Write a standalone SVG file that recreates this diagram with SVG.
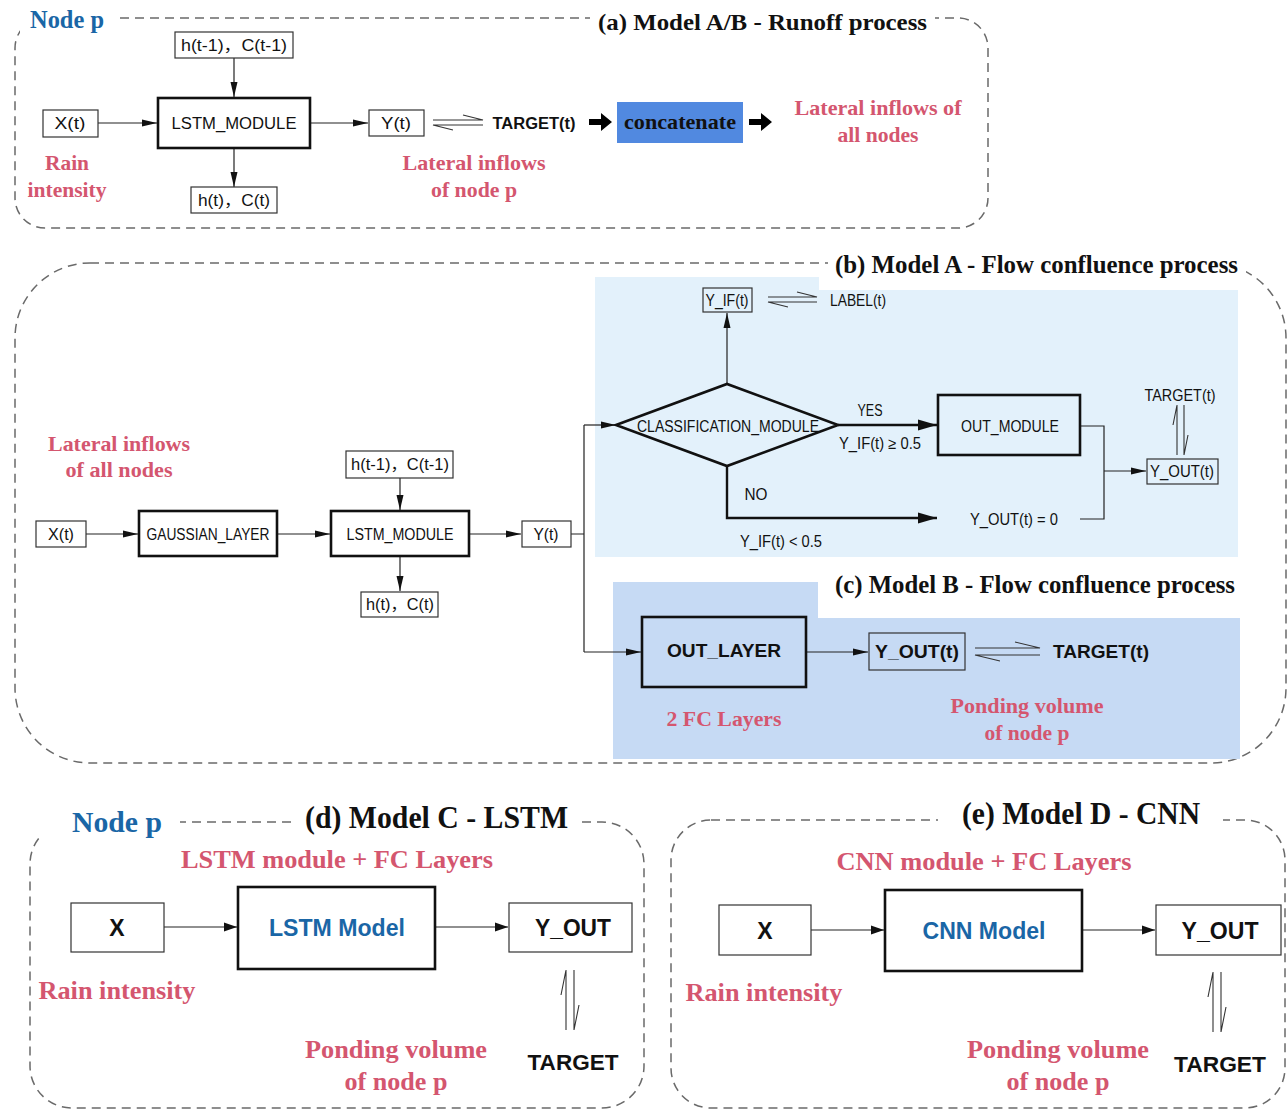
<svg xmlns="http://www.w3.org/2000/svg" width="1288" height="1111" viewBox="0 0 1288 1111">
<defs>
<style>
.panel{fill:none;stroke:#6a6a6a;stroke-width:1.5;stroke-dasharray:9 6}
.box{fill:#fff;stroke:#333;stroke-width:1.2}
.boxn{fill:none;stroke:#333;stroke-width:1.2}
.thick{fill:#fff;stroke:#111;stroke-width:2.6}
.thickn{fill:none;stroke:#111;stroke-width:2.6}
.ln{fill:none;stroke:#222;stroke-width:1.2}
.lnb{fill:none;stroke:#111;stroke-width:2.4}
.lbl{font-family:"Liberation Sans","Noto Sans CJK SC",sans-serif;font-size:16px;fill:#111;text-anchor:middle;dominant-baseline:central}
.lblb{font-family:"Liberation Sans",Arial,sans-serif;font-weight:bold;fill:#111;text-anchor:middle;dominant-baseline:central}
.title{font-family:"Liberation Serif","Times New Roman",serif;font-weight:bold;fill:#111}
.blue{font-family:"Liberation Serif","Times New Roman",serif;font-weight:bold;fill:#1a66a6}
.pink{font-family:"Liberation Serif","Times New Roman",serif;font-weight:bold;fill:#d4566f;text-anchor:middle}
.harp{fill:none;stroke:#333;stroke-width:1.1}
</style>
<marker id="ah" markerUnits="userSpaceOnUse" markerWidth="16" markerHeight="8" refX="15" refY="4" orient="auto"><path d="M0,0.5 L15,4 L0,7.5 z" fill="#111"/></marker>
<marker id="ahb" markerUnits="userSpaceOnUse" markerWidth="20" markerHeight="12" refX="19" refY="6" orient="auto"><path d="M0,0.5 L19,6 L0,11.5 z" fill="#111"/></marker>
<marker id="ahd" markerUnits="userSpaceOnUse" markerWidth="14" markerHeight="10" refX="13" refY="5" orient="auto"><path d="M0,0.5 L13,5 L0,9.5 z" fill="#111"/></marker>
</defs>
<rect x="0" y="0" width="1288" height="1111" fill="#fff"/>

<!-- Panel outlines -->
<g id="panels">
<rect class="panel" x="15" y="18" width="973" height="210" rx="30" ry="30"/>
<rect x="20" y="0" width="100" height="42" fill="#fff"/>
<rect x="590" y="2" width="345" height="34" fill="#fff"/>
<rect class="panel" x="15" y="263" width="1271" height="500" rx="75" ry="75"/>
<rect class="panel" x="30" y="822" width="614" height="286" rx="42" ry="42"/>
<rect x="40" y="800" width="140" height="44" fill="#fff"/>
<rect x="295" y="798" width="285" height="44" fill="#fff"/>
<rect class="panel" x="671" y="820" width="614" height="288" rx="40" ry="40"/>
<rect x="938" y="795" width="285" height="44" fill="#fff"/>
<polygon points="595,277 819,277 819,290 1238,290 1238,557 595,557" fill="#e3f1fb"/>
<polygon points="613,582 818,582 818,618 1240,618 1240,759 613,759" fill="#c6daf4"/>
<rect x="828" y="248" width="418" height="40" fill="#fff"/>
</g>

<!-- Titles -->
<g id="titles">
<text class="blue" x="30" y="28" font-size="25" textLength="74" lengthAdjust="spacingAndGlyphs">Node p</text>
<text class="title" x="598" y="30" font-size="24" textLength="329" lengthAdjust="spacingAndGlyphs">(a) Model A/B - Runoff process</text>
<text class="title" x="835" y="273" font-size="25" textLength="403" lengthAdjust="spacingAndGlyphs">(b) Model A - Flow confluence process</text>
<text class="title" x="835" y="593" font-size="25" textLength="400" lengthAdjust="spacingAndGlyphs">(c) Model B - Flow confluence process</text>
<text class="blue" x="72" y="832" font-size="29" textLength="90" lengthAdjust="spacingAndGlyphs">Node p</text>
<text class="title" x="305" y="828" font-size="31" textLength="263" lengthAdjust="spacingAndGlyphs">(d) Model C - LSTM</text>
<text class="title" x="962" y="824" font-size="31" textLength="238" lengthAdjust="spacingAndGlyphs">(e) Model D - CNN</text>
</g>

<!-- Connectors -->
<g id="connectors">
<!-- (a) -->
<line class="ln" x1="98" y1="123" x2="157" y2="123" marker-end="url(#ah)"/>
<line class="ln" x1="234" y1="58" x2="234" y2="97" marker-end="url(#ah)"/>
<line class="ln" x1="234" y1="148" x2="234" y2="187" marker-end="url(#ah)"/>
<line class="ln" x1="310" y1="123" x2="368" y2="123" marker-end="url(#ah)"/>
<path class="harp" d="M433,120 H483 L463,115 M483,125 H433 L453,130"/>
<polygon points="589,119 601,119 601,113 612,122 601,131 601,125 589,125" fill="#000"/>
<polygon points="749,119 761,119 761,113 772,122 761,131 761,125 749,125" fill="#000"/>
<!-- (b) -->
<line class="ln" x1="86" y1="534" x2="138" y2="534" marker-end="url(#ah)"/>
<line class="ln" x1="277" y1="534" x2="330" y2="534" marker-end="url(#ah)"/>
<line class="ln" x1="400" y1="478" x2="400" y2="510" marker-end="url(#ah)"/>
<line class="ln" x1="400" y1="556" x2="400" y2="591" marker-end="url(#ah)"/>
<line class="ln" x1="469" y1="534" x2="521" y2="534" marker-end="url(#ah)"/>
<path class="ln" d="M571,534 H584 M584,425 V652"/>
<line class="ln" x1="584" y1="425" x2="616" y2="425" marker-end="url(#ah)"/>
<line class="ln" x1="584" y1="652" x2="641" y2="652" marker-end="url(#ah)"/>
<line class="ln" x1="727" y1="384" x2="727" y2="313" marker-end="url(#ah)"/>
<path class="harp" d="M768,297 H817 L797,292 M817,302 H768 L788,307"/>
<line class="lnb" x1="838" y1="425" x2="937" y2="425" marker-end="url(#ahb)"/>
<path class="lnb" d="M727,466 V518 H937" marker-end="url(#ahb)"/>
<path class="ln" d="M1080,426 H1104 V519 H1080"/>
<line class="ln" x1="1104" y1="471" x2="1146" y2="471" marker-end="url(#ah)"/>
<path class="harp" d="M1177,455 V405 L1173,425 M1184,405 V455 L1188,435"/>
<!-- (c) -->
<line class="ln" x1="806" y1="652" x2="868" y2="652" marker-end="url(#ah)"/>
<path class="harp" d="M975,648 H1040 L1015,642 M1040,655 H975 L1000,661"/>
<!-- (d) -->
<line class="ln" x1="164" y1="927" x2="237" y2="927" marker-end="url(#ahd)"/>
<line class="ln" x1="435" y1="927" x2="508" y2="927" marker-end="url(#ahd)"/>
<path class="harp" d="M566,1030 V970 L561,995 M574,970 V1030 L579,1005"/>
<!-- (e) -->
<line class="ln" x1="811" y1="930" x2="884" y2="930" marker-end="url(#ahd)"/>
<line class="ln" x1="1082" y1="930" x2="1155" y2="930" marker-end="url(#ahd)"/>
<path class="harp" d="M1213,1032 V972 L1208,997 M1221,972 V1032 L1226,1007"/>
</g>

<!-- (a) nodes -->
<g id="a_xt"><rect class="box" x="43" y="110" width="55" height="27"/><text class="lbl" x="70" y="123" font-size="17" textLength="31" lengthAdjust="spacingAndGlyphs">X(t)</text></g>
<g id="a_lstm"><rect class="thick" x="158" y="98" width="152" height="50"/><text class="lbl" x="234" y="123" font-size="17" textLength="125" lengthAdjust="spacingAndGlyphs">LSTM_MODULE</text></g>
<g id="a_hprev"><rect class="box" x="175" y="32" width="118" height="26"/><text class="lbl" x="234" y="45" font-size="16" textLength="106" lengthAdjust="spacingAndGlyphs">h(t-1)，C(t-1)</text></g>
<g id="a_hcur"><rect class="box" x="191" y="187" width="86" height="26"/><text class="lbl" x="234" y="200" font-size="16" textLength="72" lengthAdjust="spacingAndGlyphs">h(t)，C(t)</text></g>
<g id="a_yt"><rect class="box" x="369" y="110" width="55" height="26"/><text class="lbl" x="396" y="123" font-size="17" textLength="30" lengthAdjust="spacingAndGlyphs">Y(t)</text></g>
<g id="a_target"><text class="lblb" x="534" y="123" font-size="16" textLength="83" lengthAdjust="spacingAndGlyphs">TARGET(t)</text></g>
<g id="a_concat"><rect x="617" y="102" width="126" height="41" fill="#5189e0"/><text class="title" x="680" y="129" font-size="22" text-anchor="middle" textLength="112" lengthAdjust="spacingAndGlyphs">concatenate</text></g>
<g id="a_labels">
<text class="pink" x="878" y="115" font-size="22" textLength="167" lengthAdjust="spacingAndGlyphs">Lateral inflows of</text>
<text class="pink" x="878" y="142" font-size="22" textLength="81" lengthAdjust="spacingAndGlyphs">all nodes</text>
<text class="pink" x="67" y="170" font-size="22" textLength="44" lengthAdjust="spacingAndGlyphs">Rain</text>
<text class="pink" x="67" y="197" font-size="22" textLength="79" lengthAdjust="spacingAndGlyphs">intensity</text>
<text class="pink" x="474" y="170" font-size="22" textLength="143" lengthAdjust="spacingAndGlyphs">Lateral inflows</text>
<text class="pink" x="474" y="197" font-size="22" textLength="86" lengthAdjust="spacingAndGlyphs">of node p</text>
</g>

<!-- (b) nodes -->
<g id="b_labels">
<text class="pink" x="119" y="451" font-size="22" textLength="142" lengthAdjust="spacingAndGlyphs">Lateral inflows</text>
<text class="pink" x="119" y="477" font-size="22" textLength="107" lengthAdjust="spacingAndGlyphs">of all nodes</text>
</g>
<g id="b_xt"><rect class="box" x="36" y="521" width="50" height="26"/><text class="lbl" x="61" y="534" textLength="26" lengthAdjust="spacingAndGlyphs">X(t)</text></g>
<g id="b_gauss"><rect class="thick" x="139" y="511" width="138" height="45"/><text class="lbl" x="208" y="534" textLength="123" lengthAdjust="spacingAndGlyphs">GAUSSIAN_LAYER</text></g>
<g id="b_lstm"><rect class="thick" x="331" y="511" width="138" height="45"/><text class="lbl" x="400" y="534" textLength="107" lengthAdjust="spacingAndGlyphs">LSTM_MODULE</text></g>
<g id="b_hprev"><rect class="box" x="346" y="451" width="107" height="27"/><text class="lbl" x="400" y="464" font-size="15" textLength="98" lengthAdjust="spacingAndGlyphs">h(t-1)，C(t-1)</text></g>
<g id="b_hcur"><rect class="box" x="361" y="592" width="77" height="25"/><text class="lbl" x="400" y="604" font-size="15" textLength="68" lengthAdjust="spacingAndGlyphs">h(t)，C(t)</text></g>
<g id="b_yt"><rect class="box" x="522" y="521" width="49" height="26"/><text class="lbl" x="546" y="534" textLength="25" lengthAdjust="spacingAndGlyphs">Y(t)</text></g>
<g id="b_class"><polygon class="thickn" points="616,425 727,384 838,425 727,466"/><text class="lbl" x="728" y="426" font-size="16" textLength="182" lengthAdjust="spacingAndGlyphs">CLASSIFICATION_MODULE</text></g>
<g id="b_yif"><rect class="boxn" x="703" y="288" width="49" height="24"/><text class="lbl" x="727" y="300" font-size="15" textLength="43" lengthAdjust="spacingAndGlyphs">Y_IF(t)</text></g>
<g id="b_label"><text class="lbl" x="858" y="300" font-size="15" textLength="56" lengthAdjust="spacingAndGlyphs">LABEL(t)</text></g>
<g id="b_yes"><text class="lbl" x="870" y="410" font-size="15" textLength="25" lengthAdjust="spacingAndGlyphs">YES</text><text class="lbl" x="880" y="443" font-size="15" textLength="82" lengthAdjust="spacingAndGlyphs">Y_IF(t) ≥ 0.5</text></g>
<g id="b_no"><text class="lbl" x="756" y="494" font-size="15" textLength="23" lengthAdjust="spacingAndGlyphs">NO</text><text class="lbl" x="781" y="541" font-size="15" textLength="82" lengthAdjust="spacingAndGlyphs">Y_IF(t) &lt; 0.5</text></g>
<g id="b_out"><rect class="thickn" x="938" y="395" width="142" height="60"/><text class="lbl" x="1010" y="426" font-size="16" textLength="98" lengthAdjust="spacingAndGlyphs">OUT_MODULE</text></g>
<g id="b_zero"><text class="lbl" x="1014" y="519" font-size="15" textLength="88" lengthAdjust="spacingAndGlyphs">Y_OUT(t) = 0</text></g>
<g id="b_yout"><rect class="boxn" x="1147" y="459" width="71" height="25"/><text class="lbl" x="1182" y="471" font-size="15" textLength="64" lengthAdjust="spacingAndGlyphs">Y_OUT(t)</text></g>
<g id="b_target"><text class="lbl" x="1180" y="395" font-size="15" textLength="71" lengthAdjust="spacingAndGlyphs">TARGET(t)</text></g>

<!-- (c) nodes -->
<g id="c_out"><rect class="thickn" x="642" y="617" width="164" height="70" stroke-width="3"/><text class="lblb" x="724" y="651" font-size="18" textLength="114" lengthAdjust="spacingAndGlyphs">OUT_LAYER</text></g>
<g id="c_yout"><rect class="boxn" x="869" y="633" width="96" height="37"/><text class="lblb" x="917" y="652" font-size="18" textLength="84" lengthAdjust="spacingAndGlyphs">Y_OUT(t)</text></g>
<g id="c_target"><text class="lblb" x="1101" y="652" font-size="18" textLength="96" lengthAdjust="spacingAndGlyphs">TARGET(t)</text></g>
<g id="c_labels">
<text class="pink" x="724" y="726" font-size="22" textLength="115" lengthAdjust="spacingAndGlyphs">2 FC Layers</text>
<text class="pink" x="1027" y="713" font-size="22" textLength="153" lengthAdjust="spacingAndGlyphs">Ponding volume</text>
<text class="pink" x="1027" y="740" font-size="22" textLength="85" lengthAdjust="spacingAndGlyphs">of node p</text>
</g>

<!-- (d) nodes -->
<g id="d_sub"><text class="pink" x="337" y="868" font-size="25" textLength="312" lengthAdjust="spacingAndGlyphs">LSTM module + FC Layers</text></g>
<g id="d_x"><rect class="box" x="71" y="903" width="93" height="49"/><text class="lblb" x="117" y="928" font-size="23">X</text></g>
<g id="d_lstm"><rect class="thick" x="238" y="887" width="197" height="82" stroke-width="3"/><text class="lblb" x="337" y="928" font-size="23" style="fill:#1a66a6" textLength="136" lengthAdjust="spacingAndGlyphs">LSTM Model</text></g>
<g id="d_yout"><rect class="box" x="509" y="903" width="123" height="49"/><text class="lblb" x="573" y="928" font-size="23" textLength="76" lengthAdjust="spacingAndGlyphs">Y_OUT</text></g>
<g id="d_target"><text class="lblb" x="573" y="1062" font-size="22" textLength="91" lengthAdjust="spacingAndGlyphs">TARGET</text></g>
<g id="d_labels">
<text class="pink" x="117" y="999" font-size="25" textLength="157" lengthAdjust="spacingAndGlyphs">Rain intensity</text>
<text class="pink" x="396" y="1058" font-size="25" textLength="182" lengthAdjust="spacingAndGlyphs">Ponding volume</text>
<text class="pink" x="396" y="1090" font-size="25" textLength="103" lengthAdjust="spacingAndGlyphs">of node p</text>
</g>

<!-- (e) nodes -->
<g id="e_sub"><text class="pink" x="984" y="870" font-size="25" textLength="295" lengthAdjust="spacingAndGlyphs">CNN module + FC Layers</text></g>
<g id="e_x"><rect class="box" x="719" y="905" width="92" height="50"/><text class="lblb" x="765" y="931" font-size="23">X</text></g>
<g id="e_cnn"><rect class="thick" x="885" y="890" width="197" height="81" stroke-width="3"/><text class="lblb" x="984" y="931" font-size="23" style="fill:#1a66a6" textLength="123" lengthAdjust="spacingAndGlyphs">CNN Model</text></g>
<g id="e_yout"><rect class="box" x="1156" y="905" width="125" height="50"/><text class="lblb" x="1220" y="931" font-size="23" textLength="77" lengthAdjust="spacingAndGlyphs">Y_OUT</text></g>
<g id="e_target"><text class="lblb" x="1220" y="1064" font-size="22" textLength="92" lengthAdjust="spacingAndGlyphs">TARGET</text></g>
<g id="e_labels">
<text class="pink" x="764" y="1001" font-size="25" textLength="157" lengthAdjust="spacingAndGlyphs">Rain intensity</text>
<text class="pink" x="1058" y="1058" font-size="25" textLength="182" lengthAdjust="spacingAndGlyphs">Ponding volume</text>
<text class="pink" x="1058" y="1090" font-size="25" textLength="103" lengthAdjust="spacingAndGlyphs">of node p</text>
</g>
</svg>
